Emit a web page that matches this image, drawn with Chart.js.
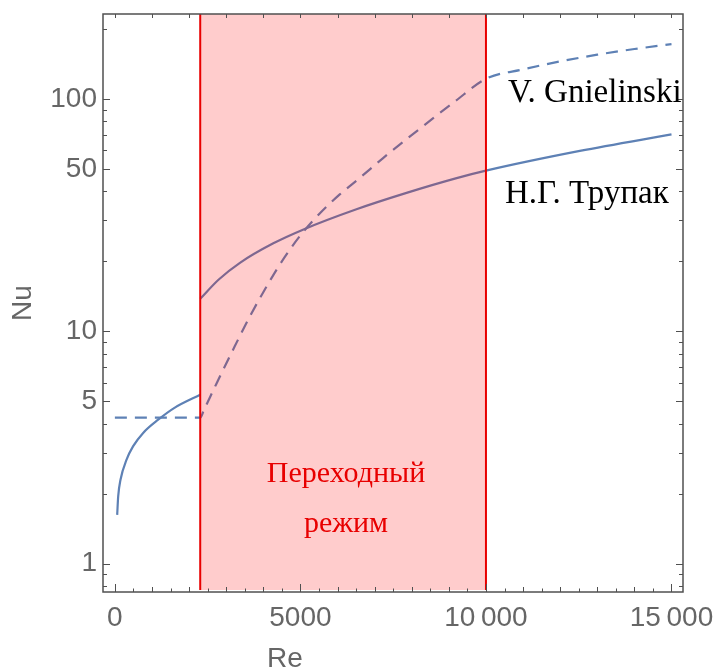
<!DOCTYPE html>
<html>
<head>
<meta charset="utf-8">
<script src="https://cdn.jsdelivr.net/npm/chart.js@4.4.0/dist/chart.umd.min.js"></script>
<style>
  html, body { margin: 0; padding: 0; background: #fff; }
  #wrap { width: 716px; height: 671px; }
</style>
</head>
<body>
<div id="wrap"><canvas id="nuChart" width="716" height="671"></canvas></div>
<script>
// Values (Re on x, Nu on a log y axis)
const trupakLamRe = [62, 90, 153, 315, 493, 762, 1167, 1616, 2300];
const trupakLamNu = [1.62, 1.95, 2.3, 2.8, 3.2, 3.65, 4.16, 4.69, 5.33];

const trupakTurbRe = [2300, 2800, 3370, 4270, 5100, 6510, 7860, 9210, 10000, 12530, 15000];
const trupakTurbNu = [13.8, 16.7, 19.7, 23.9, 27.5, 33.5, 39.4, 45.6, 49.1, 59.7, 70.3];

const gnielRe = [0, 2300, 2400, 2740, 3230, 3640, 4180, 4580, 5070, 5520, 6060, 6600, 7220, 8220, 9160, 10000, 11000, 12000, 13000, 14000, 15000];
const gnielNu = [4.25, 4.25, 4.58, 5.96, 8.61, 11.6, 16.5, 20.9, 26.7, 32.1, 38.8, 45.7, 55.5, 74.5, 97.4, 122, 134, 145, 155, 164, 172];

const transRe = [2300, 10000];
const xTickValues = [0, 5000, 10000, 15000];
const yTickValues = [1, 5, 10, 50, 100];
const yMinorValues = [0.8, 0.9, 2, 3, 4, 6, 7, 8, 9, 20, 30, 40, 60, 70, 80, 90, 200];

const lineBlue = '#5E81B5';
const axisGray = '#666666';
const frameGray = '#505050';
const redLine = 'rgb(232,0,0)';

function toPoints(xs, ys) {
  return xs.map((v, i) => ({ x: v, y: ys[i] }));
}

function fmtRe(v) {
  // Mathematica style digit grouping with a thin space
  return v >= 10000 ? String(v).replace(/(\d+)(\d{3})$/, '$1\u2009$2') : String(v);
}

// Shaded transition band, frame with inward ticks and the text labels
const overlayPlugin = {
  id: 'overlay',
  afterDatasetsDraw(chart) {
    const { ctx, chartArea: a, scales: { x, y } } = chart;
    const x1 = x.getPixelForValue(transRe[0]);
    const x2 = x.getPixelForValue(transRe[1]);
    ctx.save();

    ctx.fillStyle = 'rgba(255,0,0,0.2)';
    ctx.fillRect(x1, a.top, x2 - x1, a.bottom - a.top - 2);
    ctx.strokeStyle = redLine;
    ctx.lineWidth = 2;
    ctx.beginPath();
    ctx.moveTo(x1, a.top); ctx.lineTo(x1, a.bottom - 2);
    ctx.moveTo(x2, a.top); ctx.lineTo(x2, a.bottom - 2);
    ctx.stroke();

    // frame
    ctx.strokeStyle = frameGray;
    ctx.lineWidth = 1.5;
    ctx.strokeRect(a.left, a.top, a.right - a.left, a.bottom - a.top);

    // x ticks (bottom every 500, top every 1000)
    ctx.lineWidth = 1;
    ctx.beginPath();
    for (let v = 0; v <= 15000; v += 500) {
      const px = Math.round(x.getPixelForValue(v)) + 0.5;
      const len = v % 5000 === 0 ? 8 : (v % 1000 === 0 ? 5 : 3.5);
      ctx.moveTo(px, a.bottom); ctx.lineTo(px, a.bottom - len);
      if (v % 1000 === 0) { ctx.moveTo(px, a.top); ctx.lineTo(px, a.top + 4); }
    }
    // y ticks, left and right
    yTickValues.concat(yMinorValues).forEach(v => {
      const py = Math.round(y.getPixelForValue(v)) + 0.5;
      const len = yTickValues.includes(v) ? 7 : 4;
      ctx.moveTo(a.left, py); ctx.lineTo(a.left + len, py);
      ctx.moveTo(a.right, py); ctx.lineTo(a.right - len, py);
    });
    ctx.stroke();

    // labels inside the plot
    ctx.font = '33px "Liberation Serif", serif';
    ctx.fillStyle = '#000';
    ctx.textAlign = 'left';
    ctx.textBaseline = 'alphabetic';
    ctx.fillText('V. Gnielinski', 508, 102);
    ctx.fillText('Н.Г. Трупак', 505, 203);

    ctx.font = '30px "Liberation Serif", serif';
    ctx.fillStyle = redLine;
    ctx.textAlign = 'center';
    ctx.fillText('Переходный', 346, 482);
    ctx.fillText('режим', 346, 532);

    // x axis title
    ctx.font = '28px "Liberation Sans", Arial, sans-serif';
    ctx.fillStyle = axisGray;
    ctx.fillText('Re', 285, 667);

    ctx.restore();
  }
};

const ctx = document.getElementById('nuChart').getContext('2d');
new Chart(ctx, {
  type: 'line',
  data: {
    datasets: [
      {
        label: 'Н.Г. Трупак (ламинарный)',
        data: toPoints(trupakLamRe, trupakLamNu),
        borderColor: lineBlue, borderWidth: 2.2, pointRadius: 0,
        cubicInterpolationMode: 'monotone', fill: false
      },
      {
        label: 'Н.Г. Трупак',
        data: toPoints(trupakTurbRe, trupakTurbNu),
        borderColor: lineBlue, borderWidth: 2.2, pointRadius: 0,
        cubicInterpolationMode: 'monotone', fill: false
      },
      {
        label: 'V. Gnielinski',
        data: toPoints(gnielRe, gnielNu),
        borderColor: lineBlue, borderWidth: 2.2, borderDash: [12, 8], pointRadius: 0,
        cubicInterpolationMode: 'monotone', fill: false
      }
    ]
  },
  options: {
    responsive: false,
    devicePixelRatio: 1,
    animation: false,
    layout: { padding: { left: 0, top: 14, right: 33, bottom: 0 } },
    plugins: { legend: { display: false }, tooltip: { enabled: false } },
    scales: {
      x: {
        type: 'linear', min: -320, max: 15310,
        grid: { display: false, drawTicks: false },
        border: { display: false },
        afterBuildTicks: s => { s.ticks = xTickValues.map(v => ({ value: v })); },
        afterFit: s => { s.height = 79; s.paddingLeft = 0; s.paddingRight = 0; },
        ticks: {
          maxRotation: 0, autoSkip: false, padding: 9, color: axisGray,
          font: { family: '"Liberation Sans", Arial, sans-serif', size: 28 },
          callback: v => fmtRe(v)
        }
      },
      y: {
        type: 'logarithmic', min: 0.754, max: 232,
        grid: { display: false, drawTicks: false },
        border: { display: false },
        afterBuildTicks: s => { s.ticks = yTickValues.map(v => ({ value: v })); },
        afterFit: s => { s.width = 103; s.paddingTop = 0; s.paddingBottom = 0; },
        ticks: {
          autoSkip: false, padding: 6, color: axisGray,
          font: { family: '"Liberation Sans", Arial, sans-serif', size: 28 },
          callback: v => String(v)
        },
        title: {
          display: true, text: 'Nu', color: axisGray, padding: { top: 6, bottom: 0 },
          font: { family: '"Liberation Sans", Arial, sans-serif', size: 28 }
        }
      }
    }
  },
  plugins: [overlayPlugin]
});
</script>
</body>
</html>
